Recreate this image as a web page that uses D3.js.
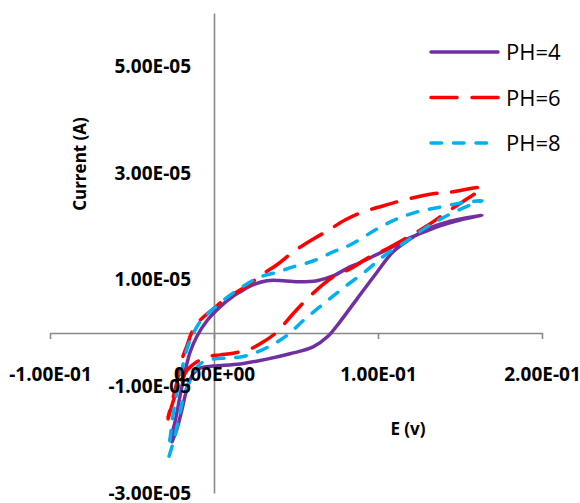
<!DOCTYPE html>
<html>
<head>
<meta charset="utf-8">
<script src="https://cdn.jsdelivr.net/npm/d3@7"></script>
<style>
  body { margin: 0; background: #fff; }
  .tickText { font-family: "Open Sans", sans-serif; font-weight: bold; font-size: 19px; fill: #000; }
  .aTitle { font-family: "Open Sans", sans-serif; font-weight: bold; font-size: 17px; fill: #000; }
  .legText { font-family: "Open Sans", sans-serif; font-size: 22px; fill: #000; }
</style>
</head>
<body>
<div id="chart"></div>
<script>
// series names
var seriesNames = ["PH=4", "PH=6", "PH=8"];

// PH=4 : potential (V) and current (A), forward scan then back
var ePH4 = [-0.0256, -0.0226, -0.0195, -0.0165, -0.0128, -0.0085, -0.0006, 0.0159, 0.0323, 0.0463,
  0.0604, 0.0695, 0.0768, 0.0872, 0.0994, 0.1091, 0.1195, 0.1299, 0.1421, 0.1543, 0.1634,
  0.1500, 0.1378, 0.1238, 0.1177, 0.1073, 0.0970, 0.0872, 0.0829, 0.0726, 0.0628, 0.0524,
  0.0421, 0.0323, 0.0220, 0.0159, 0.0116, 0.0037, -0.0043, -0.0104, -0.0146, -0.0177,
  -0.0207, -0.0238, -0.0268];
var iPH4 = [-2.04e-5, -1.80e-5, -1.43e-5, -1.05e-5, -0.77e-5, -0.66e-5, -0.62e-5, -0.58e-5, -0.49e-5, -0.39e-5,
  -0.26e-5, -0.06e-5, 0.21e-5, 0.64e-5, 1.14e-5, 1.52e-5, 1.76e-5, 1.95e-5, 2.08e-5, 2.16e-5, 2.21e-5,
  2.12e-5, 2.01e-5, 1.84e-5, 1.76e-5, 1.59e-5, 1.44e-5, 1.29e-5, 1.24e-5, 1.07e-5, 0.98e-5, 0.96e-5,
  0.98e-5, 0.98e-5, 0.88e-5, 0.77e-5, 0.69e-5, 0.49e-5, 0.23e-5, -0.06e-5, -0.36e-5, -0.73e-5,
  -1.18e-5, -1.67e-5, -2.00e-5];

// PH=6
var ePH6 = [-0.0280, -0.0238, -0.0195, -0.0159, -0.0104, -0.0043, 0.0037, 0.0116, 0.0220, 0.0299,
  0.0384, 0.0482, 0.0585, 0.0726, 0.0829, 0.0951, 0.1055, 0.1195, 0.1299, 0.1421, 0.1530, 0.1634,
  0.1439, 0.1335, 0.1152, 0.1073, 0.0909, 0.0799, 0.0689, 0.0604, 0.0482, 0.0384, 0.0280,
  0.0201, 0.0079, -0.0006, -0.0085, -0.0134, -0.0165, -0.0195, -0.0226, -0.0256, -0.0280];
var iPH6 = [-1.61e-5, -1.18e-5, -0.86e-5, -0.68e-5, -0.54e-5, -0.45e-5, -0.41e-5, -0.38e-5, -0.30e-5, -0.17e-5,
  0.02e-5, 0.36e-5, 0.69e-5, 1.05e-5, 1.20e-5, 1.43e-5, 1.58e-5, 1.82e-5, 2.01e-5, 2.27e-5, 2.49e-5, 2.72e-5,
  2.64e-5, 2.61e-5, 2.49e-5, 2.42e-5, 2.27e-5, 2.12e-5, 1.91e-5, 1.76e-5, 1.52e-5, 1.28e-5, 1.07e-5,
  0.88e-5, 0.66e-5, 0.45e-5, 0.24e-5, 0.02e-5, -0.24e-5, -0.49e-5, -0.92e-5, -1.29e-5, -1.58e-5];

// PH=8
var ePH8 = [-0.0274, -0.0238, -0.0207, -0.0177, -0.0134, -0.0085, -0.0006, 0.0079, 0.0159, 0.0262,
  0.0384, 0.0463, 0.0543, 0.0665, 0.0787, 0.0933, 0.1030, 0.1177, 0.1299, 0.1439, 0.1579, 0.1634,
  0.1512, 0.1378, 0.1238, 0.1116, 0.0994, 0.0829, 0.0726, 0.0604, 0.0482, 0.0384, 0.0280,
  0.0201, 0.0098, -0.0006, -0.0085, -0.0134, -0.0165, -0.0195, -0.0226, -0.0256, -0.0274];
var iPH8 = [-2.31e-5, -1.93e-5, -1.48e-5, -1.11e-5, -0.81e-5, -0.58e-5, -0.49e-5, -0.47e-5, -0.45e-5, -0.36e-5,
  -0.17e-5, 0.00e-5, 0.23e-5, 0.54e-5, 0.84e-5, 1.18e-5, 1.43e-5, 1.73e-5, 1.99e-5, 2.23e-5, 2.42e-5, 2.48e-5,
  2.44e-5, 2.36e-5, 2.27e-5, 2.14e-5, 1.95e-5, 1.65e-5, 1.52e-5, 1.35e-5, 1.24e-5, 1.14e-5, 1.05e-5,
  0.92e-5, 0.71e-5, 0.45e-5, 0.21e-5, -0.06e-5, -0.30e-5, -0.68e-5, -1.11e-5, -1.67e-5, -2.18e-5];

// axis ticks
var xTicks = [-0.1, 0, 0.1, 0.2];
var yTicks = [-3e-5, -1e-5, 1e-5, 3e-5, 5e-5];

var width = 580;
var height = 503;

var svg = d3
  .select("#chart")
  .append("svg")
  .attr("width", width)
  .attr("height", height);

var xScale = d3.scaleLinear().domain([-0.1, 0.2]).range([50, 542]);
var yScale = d3.scaleLinear().domain([-3e-5, 6e-5]).range([493, 13]);

// excel style 1.00E-01 labels
function excelExp(v) {
  if (v === 0) return "0.00E+00";
  var s = v.toExponential(2).toUpperCase();
  var parts = s.split("E");
  var ex = parseInt(parts[1]);
  var sign = ex < 0 ? "-" : "+";
  var exs = Math.abs(ex) < 10 ? "0" + Math.abs(ex) : "" + Math.abs(ex);
  return parts[0] + "E" + sign + exs;
}

var axisColor = "#898989";

// x axis sits at current = 0
var xAxis = d3.axisBottom(xScale)
  .tickValues(xTicks)
  .tickSize(6)
  .tickSizeOuter(0)
  .tickPadding(29)
  .tickFormat(excelExp);

// y axis sits at E = 0
var yAxis = d3.axisLeft(yScale)
  .tickValues(yTicks)
  .tickSize(0)
  .tickSizeOuter(0)
  .tickPadding(23)
  .tickFormat(excelExp);

// axes drawn twice: lines under the curves, labels over them
function drawAxes(withLines) {
  var gx = svg.append("g")
    .attr("transform", "translate(0," + yScale(0) + ")")
    .call(xAxis);
  var gy = svg.append("g")
    .attr("transform", "translate(" + xScale(0) + ",0)")
    .call(yAxis);
  [gx, gy].forEach(function(g) {
    if (withLines) {
      g.select(".domain").attr("stroke", axisColor).attr("stroke-width", 1.6);
      g.selectAll(".tick line").attr("stroke", axisColor).attr("stroke-width", 1.6);
      g.selectAll(".tick text").remove();
    }
    else {
      g.select(".domain").remove();
      g.selectAll(".tick line").remove();
      g.selectAll(".tick text").attr("class", "tickText");
      g.attr("font-family", null).attr("font-size", null);
    }
  });
}

drawAxes(true);

// lines
var styles = [
  { color: "#7030A0", dash: null },
  { color: "#FF0000", dash: "26 15" },
  { color: "#00B0F0", dash: "10.5 12" }
];

var allE = [ePH4, ePH6, ePH8];
var allI = [iPH4, iPH6, iPH8];

var line = d3.line()
  .x(function(d) { return xScale(d[0]); })
  .y(function(d) { return yScale(d[1]); })
  .curve(d3.curveCatmullRom.alpha(0.5));

allE.forEach(function(eArr, k) {
  var pts = eArr.map(function(e, j) { return [e, allI[k][j]]; });
  svg.append("path")
    .attr("d", line(pts))
    .attr("fill", "none")
    .attr("stroke", styles[k].color)
    .attr("stroke-width", 3.5)
    .attr("stroke-linecap", "round")
    .attr("stroke-linejoin", "round")
    .attr("stroke-dasharray", styles[k].dash);
});

drawAxes(false);

// axis titles
svg.append("text")
  .attr("class", "aTitle")
  .attr("text-anchor", "middle")
  .attr("transform", "translate(86,164)rotate(-90)")
  .text("Current (A)");

svg.append("text")
  .attr("class", "aTitle")
  .attr("text-anchor", "middle")
  .attr("x", 408)
  .attr("y", 435)
  .text("E (v)");

// legend
var legend = svg.append("g").attr("transform", "translate(430,52)");
seriesNames.forEach(function(name, k) {
  var row = legend.append("g").attr("transform", "translate(0," + (k * 45.5) + ")");
  row.append("line")
    .attr("x1", 1)
    .attr("x2", 68)
    .attr("stroke", styles[k].color)
    .attr("stroke-width", 3.5)
    .attr("stroke-linecap", "round")
    .attr("stroke-dasharray", styles[k].dash);
  row.append("text")
    .attr("class", "legText")
    .attr("x", 76)
    .attr("y", 8)
    .text(name);
});
</script>
</body>
</html>
